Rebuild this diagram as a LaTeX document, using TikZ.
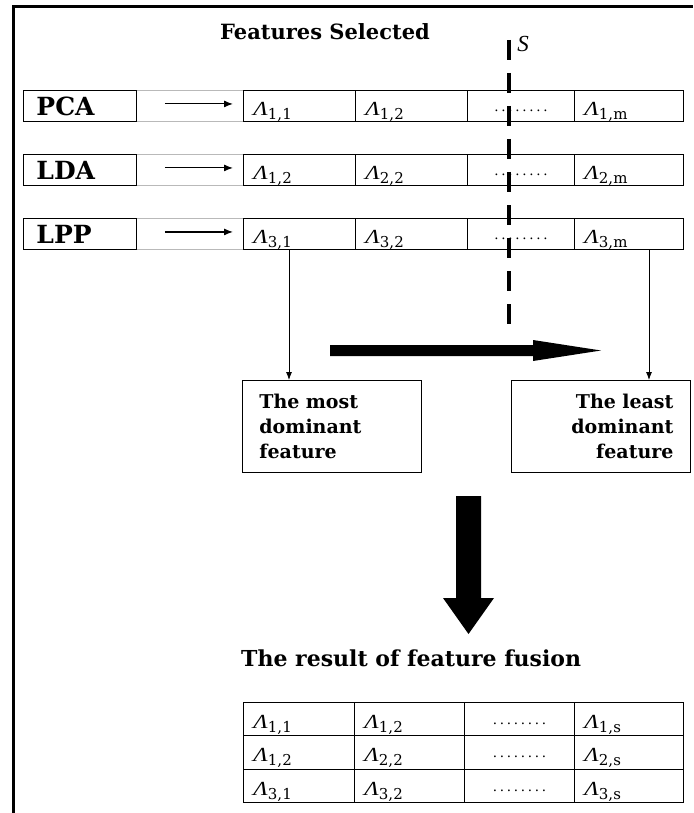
\documentclass[tikz,border=0pt]{standalone}
\usepackage{fontspec}
\setmainfont{Liberation Serif}
\newfontfamily\dvs{DejaVu Serif}
\usetikzlibrary{arrows.meta}
\newcommand\lam[1]{{\itshape\scalebox{1.2}[1]{Λ}}\raisebox{-4pt}{\dvs\fontsize{15}{15}\selectfont #1}}
\newcommand\dotrow{\hbox to 56pt{\xleaders\hbox to 7pt{\hss.\hss}\hfill}}
\begin{document}
\begin{tikzpicture}[x=1pt,y=-1pt,
  cellbox/.style={draw, line width=0.9pt, anchor=north west, minimum height=31pt,
    inner ysep=0pt, font=\fontsize{20}{20}\selectfont},
  lcell/.style={cellbox, inner xsep=10pt, text width=#1, align=left,
    text height=19pt, text depth=0pt},
  dcell/.style={cellbox, inner xsep=0pt, minimum width=#1, font=\fontsize{15}{15}\selectfont,
    text height=11pt, text depth=0pt},
  labbox/.style={cellbox, inner xsep=13pt, text width=87pt, align=left,
    font=\dvs\bfseries\fontsize{25}{25}\selectfont},
  tcell/.style={lcell=#1, minimum height=33.3pt},
  tdcell/.style={dcell=#1, minimum height=33.3pt},
  smallarrow/.style={-{Latex[length=9pt,width=7pt]}, line width=1.1pt},
  thinarrow/.style={-{Latex[length=8pt,width=6pt]}, line width=0.8pt},
  bigtext/.style={font=\dvs\bfseries\fontsize{21}{21}\selectfont},
  dombox/.style={draw, line width=0.9pt, anchor=north west, minimum width=179pt,
    minimum height=92pt, inner ysep=0pt, text width=145pt,
    font=\dvs\bfseries\fontsize{19}{25}\selectfont}
]
\useasboundingbox (0,0) rectangle (693,813);
% frame
\draw[line width=3pt] (13,813) -- (13,7) -- (693,7);
% title
\node[bigtext] (title) at (325,32) {Features Selected};
\node[font=\fontsize{23}{23}\selectfont\itshape] (S) at (523,44) {S};
% rows
\foreach \r/\t/\lab/\a/\b/\c in {1/90/PCA/{1,1}/{1,2}/{1,m}, 2/154/LDA/{1,2}/{2,2}/{2,m}, 3/218/LPP/{3,1}/{3,2}/{3,m}}{
  \node[labbox] (lab\r) at (23,\t) {\lab};
  \node[lcell=92pt] (r\r c1) at (243,\t) {\lam{\a}};
  \node[lcell=92pt] (r\r c2) at (355,\t) {\lam{\b}};
  \node[dcell=107pt] (r\r c3) at (467,\t) {\dotrow};
  \node[lcell=89pt] (r\r c4) at (574,\t) {\lam{\c}};
  \draw[gray!55, line width=0.9pt] (lab\r.north east) -- (r\r c1.north west);
  \draw[gray!55, line width=0.9pt] (lab\r.south east) -- (r\r c1.south west);
  \draw[smallarrow] ([xshift=28pt,yshift=2pt]lab\r.east) -- ([xshift=-10pt,yshift=2pt]r\r c1.west);
}
% dashed S line
\coordinate (stop) at (509,40);
\coordinate (sbot) at (509,332);
\draw[line width=4pt, dash pattern=on 20pt off 13pt] (stop) -- (sbot);
% thick right arrow
\fill (330,345) -- (533,345) -- (533,340) -- (601,350.5) -- (533,361) -- (533,356) -- (330,356) -- cycle;
% dominance boxes
\node[dombox, inner xsep=17pt, align=left] (most) at (242,380) {The most\\dominant\\feature};
\node[dombox, inner xsep=17pt, align=right] (least) at (511,380) {The least\\dominant\\feature};
\draw[thinarrow] ([xshift=46pt]r3c1.south west) -- ([xshift=46pt]r3c1.south west |- most.north);
\draw[thinarrow] ([xshift=75pt]r3c4.south west) -- ([xshift=75pt]r3c4.south west |- least.north);
% big down arrow
\fill (456,496) -- (481,496) -- (481,598) -- (494,598) -- (468.5,634) -- (443,598) -- (456,598) -- cycle;
% result
\node[font=\dvs\bfseries\fontsize{22}{22}\selectfont, anchor=west, inner sep=0pt] (res) at (241,658) {The result of feature fusion};
% table
\foreach \r/\t/\a/\b/\c in {1/702/{1,1}/{1,2}/{1,s}, 2/735.3/{1,2}/{2,2}/{2,s}, 3/768.6/{3,1}/{3,2}/{3,s}}{
  \node[tcell=91pt] (t\r c1) at (243,\t) {\lam{\a}};
  \node[tcell=90pt] (t\r c2) at (354,\t) {\lam{\b}};
  \node[tdcell=110pt] (t\r c3) at (464,\t) {\dotrow};
  \node[tcell=89pt] (t\r c4) at (574,\t) {\lam{\c}};
}
\end{tikzpicture}
\end{document}
